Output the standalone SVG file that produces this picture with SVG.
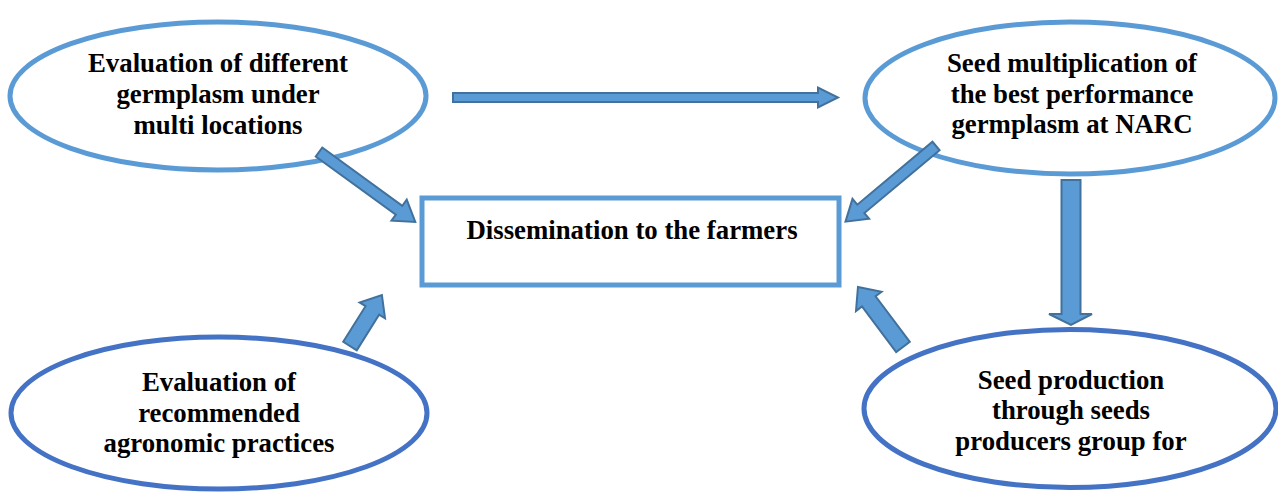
<svg xmlns="http://www.w3.org/2000/svg" width="1278" height="492" viewBox="0 0 1278 492">
<style>
.e1{fill:#fff;stroke:#5B9BD5;stroke-width:5}
.e2{fill:#fff;stroke:#4472C4;stroke-width:5}
.ar{fill:#5B9BD5;stroke:#41719C;stroke-width:2;stroke-linejoin:miter}
text{font-family:"Liberation Serif","Times New Roman",serif;font-weight:bold;font-size:26.8px;fill:#000;text-anchor:middle}
</style>
<rect width="1278" height="492" fill="#fff"/>
<g id="n1">
<ellipse class="e1" cx="218" cy="96" rx="208" ry="74"/>
<text x="218" y="72">Evaluation of different</text>
<text x="218" y="103">germplasm under</text>
<text x="218" y="134">multi locations</text>
</g>
<g id="n2">
<ellipse class="e1" cx="1070" cy="98" rx="205" ry="76"/>
<text x="1072" y="72">Seed multiplication of</text>
<text x="1072" y="103">the best performance</text>
<text x="1072" y="133">germplasm at NARC</text>
</g>
<g id="n3">
<rect class="e1" x="422" y="198" width="417" height="87"/>
<text x="632" y="239">Dissemination to the farmers</text>
</g>
<g id="n4">
<ellipse class="e2" cx="219" cy="413" rx="208" ry="76"/>
<text x="219" y="391">Evaluation of</text>
<text x="219" y="422">recommended</text>
<text x="219" y="452">agronomic practices</text>
</g>
<g id="n5">
<ellipse class="e2" cx="1070" cy="408.5" rx="206" ry="79"/>
<text x="1071" y="389">Seed production</text>
<text x="1071" y="419">through seeds</text>
<text x="1071" y="450">producers group for</text>
</g>
<g id="connectors">
<path class="ar" d="M453,93 L818,93 L818,87.5 L838,97.5 L818,107.5 L818,102 L453,102 Z"/>
<path class="ar" transform="translate(319,152) rotate(36)" d="M0,-5.5 L99,-5.5 L99,-13 L119,0 L99,13 L99,5.5 L0,5.5 Z"/>
<path class="ar" transform="translate(936,146) rotate(140.1)" d="M0,-5.5 L98,-5.5 L98,-13 L118,0 L98,13 L98,5.5 L0,5.5 Z"/>
<path class="ar" d="M1061.5,180 L1080.5,180 L1080.5,314 L1092,314 L1071,325 L1049,314 L1061.5,314 Z"/>
<path class="ar" transform="translate(350,346) rotate(-57.9)" d="M0,-8 L42,-8 L42,-15 L60,0 L42,15 L42,8 L0,8 Z"/>
<path class="ar" transform="translate(903,347) rotate(-126.9)" d="M0,-8.5 L57,-8.5 L57,-16 L75,0 L57,16 L57,8.5 L0,8.5 Z"/>
</g>
</svg>
